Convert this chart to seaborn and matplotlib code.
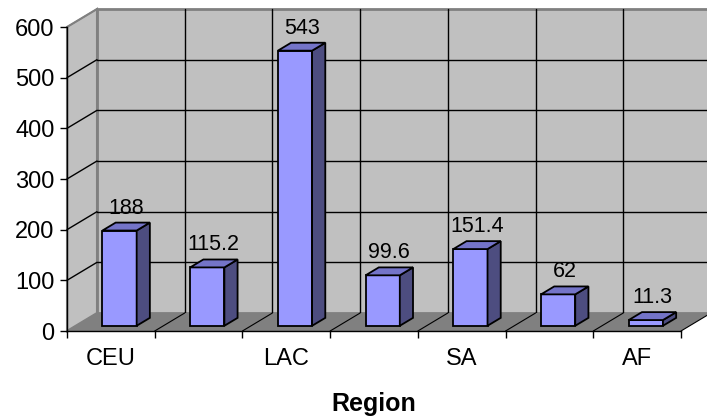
import matplotlib.pyplot as plt
from matplotlib.patches import Polygon, Rectangle
import seaborn as sns
import numpy as np

# Data
regions = ["CEU", "", "LAC", "", "SA", "", "AF"]
values = [188, 115.2, 543, 99.6, 151.4, 62, 11.3]
y_ticks = [0, 100, 200, 300, 400, 500, 600]

sns.set_style("white")
plt.rcParams["font.family"] = ["Liberation Sans", "DejaVu Sans"]
plt.rcParams["text.color"] = "black"
plt.rcParams["axes.labelcolor"] = "black"
plt.rcParams["xtick.color"] = "black"
plt.rcParams["ytick.color"] = "black"

W, H = 707, 419
fig = plt.figure(figsize=(W / 100, H / 100), dpi=100)
x0, x1, y0, y1 = 67, 681, 331, 27  # pixel box of the front plane
ax = fig.add_axes([x0 / W, 1 - y0 / H, (x1 - x0) / W, (y0 - y1) / H])
ax.patch.set_visible(False)

n = len(values)
ymax = y_ticks[-1]

# bars first so they can be picked out of ax.patches
sns.barplot(x=np.arange(n), y=values, width=0.39, color="#9999FF", saturation=1,
            edgecolor="black", linewidth=1.3, ax=ax, zorder=3)
bars = list(ax.patches)

ax.set_xlim(-0.5, n - 0.5)
ax.set_ylim(0, ymax)

# pixel -> data units
sx = n / (x1 - x0)
sy = ymax / (y0 - y1)
DX, DY = 30 * sx, 18 * sy  # depth of the box
fdx, fdy = 0.29 * DX, 0.29 * DY  # bars sit a bit behind the front
bdx, bdy = 0.44 * DX, 0.44 * DY  # bar depth

wall = "#C0C0C0"
edge = "#808080"
L, R = -0.5, n - 0.5

# back wall, side wall, floor
ax.add_patch(Rectangle((L + DX, DY), n, ymax, facecolor=wall, edgecolor=edge,
                       lw=2, zorder=0, clip_on=False))
ax.add_patch(Polygon([(L, 0), (L, ymax), (L + DX, ymax + DY), (L + DX, DY)],
                     facecolor=wall, edgecolor=edge, lw=1.5, zorder=0, clip_on=False))
ax.add_patch(Polygon([(L, 0), (R, 0), (R + DX, DY), (L + DX, DY)],
                     facecolor=edge, edgecolor="none", zorder=0.5, clip_on=False))

# gridlines on the walls
for y in y_ticks[1:-1]:
    ax.plot([L + DX, R + DX], [y + DY, y + DY], color="black", lw=1, zorder=0.3, clip_on=False)
for y in y_ticks[1:]:
    ax.plot([L, L + DX], [y, y + DY], color="black" if y < ymax else edge,
            lw=1, zorder=0.3, clip_on=False)
for x in np.arange(1, n) - 0.5:
    ax.plot([x + DX, x + DX], [DY, ymax + DY], color="black", lw=1, zorder=0.3, clip_on=False)
    ax.plot([x, x + DX], [0, DY], color="black", lw=0.8, zorder=0.6, clip_on=False)
ax.plot([R, R + DX], [0, DY], color="black", lw=0.8, zorder=0.6, clip_on=False)

# give the bars depth
for p, v in zip(bars, values):
    p.set_x(p.get_x() + fdx)
    p.set_y(fdy)
    xl, w, h = p.get_x(), p.get_width(), p.get_height()
    xr = xl + w
    ax.add_patch(Polygon([(xr, fdy), (xr + bdx, fdy + bdy), (xr + bdx, fdy + bdy + h), (xr, fdy + h)],
                         facecolor="#4D4D80", edgecolor="black", lw=1.3, zorder=3, clip_on=False))
    ax.add_patch(Polygon([(xl, fdy + h), (xr, fdy + h), (xr + bdx, fdy + h + bdy), (xl + bdx, fdy + h + bdy)],
                         facecolor="#7474C8", edgecolor="black", lw=1.3, zorder=3, clip_on=False))
    ax.text(xl + w / 2 + bdx / 2, fdy + h + bdy + 4 * sy, f"{v:g}", ha="center", va="bottom",
            fontsize=15.5, zorder=4)

# axes
sns.despine(ax=ax, top=True, right=True)
for s in ("left", "bottom"):
    ax.spines[s].set_color("black")
    ax.spines[s].set_linewidth(1)
    ax.spines[s].set_zorder(2)
ax.set_yticks(y_ticks)
ax.set_xticks(np.arange(n), regions)
ax.set_xticks(np.arange(n + 1) - 0.5, minor=True)
ax.tick_params(axis="y", left=True, length=5, width=1, color="black", pad=4, labelsize=17)
ax.tick_params(axis="x", which="major", bottom=True, length=0, pad=12, labelsize=17)
ax.tick_params(axis="x", which="minor", bottom=True, length=5, width=1, color="black")
ax.set_ylabel("")
ax.set_xlabel("Region", fontsize=18, fontweight="bold", labelpad=16)

fig.savefig("out.png", dpi=100)
